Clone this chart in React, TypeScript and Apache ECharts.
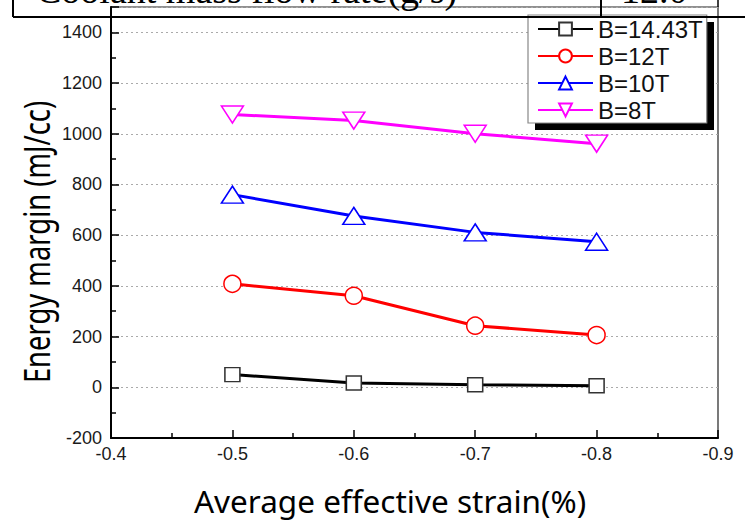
import React, { useEffect, useRef } from "react";
import * as echarts from "echarts";

const strain = [-0.5, -0.6, -0.7, -0.8];
const b1443 = [50, 17, 10, 6];
const b12 = [408, 361, 243, 206];
const b10 = [760, 676, 611, 574];
const b8 = [1076, 1052, 1000, 961];
const seriesNames = ["B=14.43T", "B=12T", "B=10T", "B=8T"];
const seriesColors = ["#000000", "#ff0000", "#0000ff", "#ff00ff"];
const xRange = [-0.9, -0.4];
const yRange = [-200, 1500];
const tableTexts = ["Coolant mass flow rate(g/s)", "12.0"];
const axisTitles = ["Average effective strain(%)", "Energy margin (mJ/cc)"];

export default function App() {
  const ref = useRef<HTMLDivElement>(null);
  useEffect(() => {
    if (!ref.current) return;
    const chart = echarts.init(ref.current, undefined, { renderer: "svg" });
    const allData = [b1443, b12, b10, b8];
    const symbols = ["rect", "circle", "triangle", "triangle"];
    const sizes: any[] = [[15, 14], 17, [22, 17], [22, 17]];
    const rotates = [0, 0, 0, 180];
    const series = allData.map((vals, i) => ({
      name: seriesNames[i],
      type: "line",
      data: vals.map((v, j) => [strain[j], v]),
      symbol: symbols[i],
      symbolSize: sizes[i],
      symbolRotate: rotates[i],
      showAllSymbol: true,
      lineStyle: { color: seriesColors[i], width: 3 },
      itemStyle: {
        color: "#ffffff",
        borderColor: i === 0 ? "#333333" : seriesColors[i],
        borderWidth: 1.5,
      },
      emphasis: { disabled: true },
      z: 3,
    }));
    const line = (x1: number, y1: number, x2: number, y2: number, w = 2) => ({
      type: "line",
      shape: { x1, y1, x2, y2 },
      style: { stroke: "#000", lineWidth: w },
      z: 10,
    });
    chart.setOption({
      animation: false,
      backgroundColor: "#ffffff",
      grid: {
        left: 111,
        right: 27,
        top: 7,
        bottom: 84,
        show: true,
        borderColor: "#222",
        borderWidth: 1.2,
        backgroundColor: "transparent",
      },
      xAxis: {
        type: "value",
        min: xRange[0],
        max: xRange[1],
        interval: 0.1,
        inverse: true,
        axisLine: { show: true, onZero: false, lineStyle: { color: "#000", width: 2 } },
        axisTick: { show: true, inside: true, length: 8, lineStyle: { color: "#000", width: 1.5 } },
        minorTick: { show: true, splitNumber: 2, length: 5, lineStyle: { color: "#000", width: 1.5 } },
        splitLine: { show: false },
        axisLabel: {
          margin: 7,
          fontFamily: "Liberation Sans",
          fontSize: 18,
          color: "#1a1a1a",
          formatter: (v: number) => v.toFixed(1),
        },
      },
      yAxis: {
        type: "value",
        min: yRange[0],
        max: yRange[1],
        interval: 200,
        axisLine: { show: true, onZero: false, lineStyle: { color: "#000", width: 2 } },
        axisTick: { show: true, inside: true, length: 8, lineStyle: { color: "#000", width: 1.5 } },
        minorTick: { show: true, splitNumber: 2, length: 5, lineStyle: { color: "#000", width: 1.5 } },
        splitLine: { show: true, lineStyle: { color: "#aaaaaa", width: 1, type: [2, 3] } },
        axisLabel: {
          margin: 9,
          fontFamily: "Liberation Sans",
          fontSize: 18,
          color: "#1a1a1a",
          showMaxLabel: false,
          formatter: (v: number) => String(v),
        },
      },
      legend: {
        orient: "vertical",
        left: 528,
        top: 15,
        padding: [2, 4, 1, 9],
        itemWidth: 55,
        itemHeight: 16,
        itemGap: 3,
        backgroundColor: "#ffffff",
        borderColor: "#888888",
        borderWidth: 1.2,
        textStyle: { fontFamily: "Liberation Sans", fontSize: 24, color: "#111" },
        data: seriesNames,
        z: 6,
      },
      graphic: [
        { type: "rect", shape: { x: 535, y: 22, width: 179, height: 108 }, style: { fill: "#000" }, z: 5 },
        line(13, 0, 13, 17),
        line(601, 0, 601, 17),
        line(13, 17, 745, 17),
        line(718, 0, 718, 7, 1.5),
        {
          type: "text",
          x: 36,
          y: -10,
          style: {
            text: tableTexts[0],
            fontFamily: "Liberation Serif",
            fontSize: 38,
            fill: "#000",
            verticalAlign: "middle",
          },
          z: 10,
        },
        {
          type: "text",
          x: 621,
          y: -10,
          style: {
            text: tableTexts[1],
            fontFamily: "Liberation Serif",
            fontSize: 38,
            fill: "#000",
            verticalAlign: "middle",
          },
          z: 10,
        },
        {
          type: "text",
          x: 390,
          y: 500,
          style: {
            text: axisTitles[0],
            fontFamily: "Noto Sans",
            fontSize: 31.5,
            fill: "#000",
            align: "center",
            verticalAlign: "middle",
          },
        },
        {
          type: "text",
          x: 36,
          y: 242,
          rotation: Math.PI / 2,
          scaleX: 0.76,
          style: {
            text: axisTitles[1],
            fontFamily: "Noto Sans",
            fontSize: 36,
            fill: "#000",
            align: "center",
            verticalAlign: "middle",
          },
        },
      ],
      series,
    });
    return () => chart.dispose();
  }, []);
  return <div ref={ref} style={{ position: "fixed", left: 0, top: 0, width: 745, height: 522 }} />;
}
